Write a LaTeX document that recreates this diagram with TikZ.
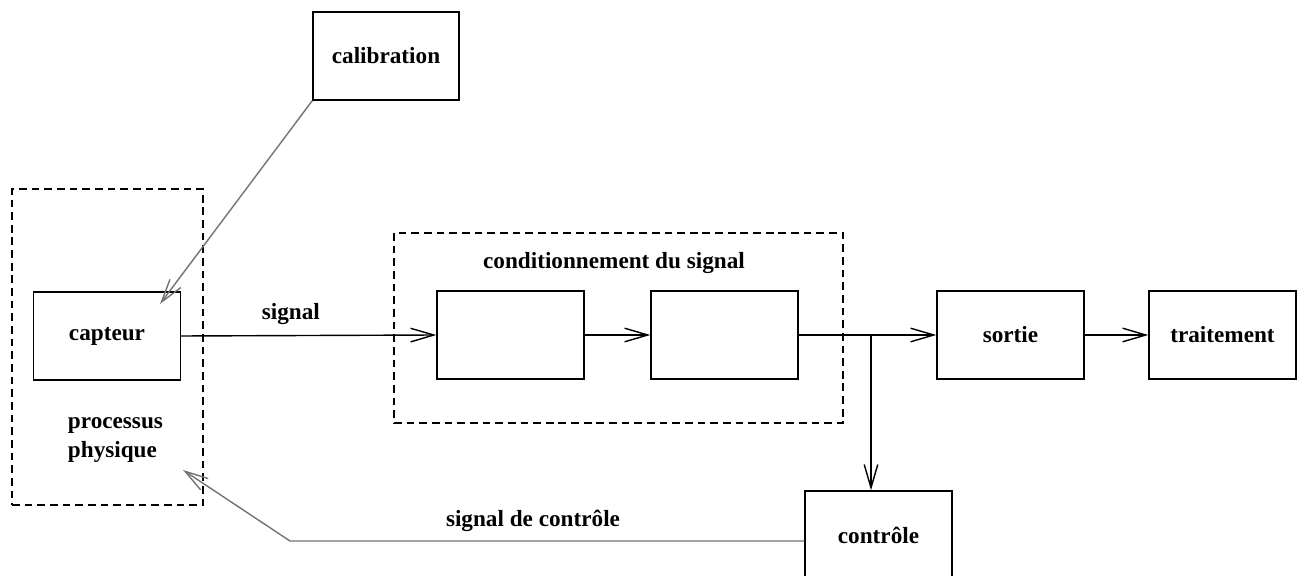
\documentclass[tikz,border=0pt]{standalone}
\usepackage{fontspec}
\setmainfont{Liberation Serif}
\usetikzlibrary{arrows.meta,positioning}
\definecolor{mygray}{RGB}{115,115,115}

\begin{document}
\begin{tikzpicture}[x=0.025cm,y=-0.025cm,
  every node/.style={font=\fontsize{16.5}{21}\selectfont\bfseries},
  bloc/.style={draw,line width=1.1pt,minimum width=3.67cm,minimum height=2.2cm,inner sep=0pt},
  cadre/.style={draw,dash pattern=on 5.5pt off 3.5pt,line width=0.9pt,inner sep=0pt},
  fleche/.style={-{Straight Barb[length=0.58cm,width=0.34cm]},line width=1pt}]
\useasboundingbox (0,0) rectangle (1305,576);
\clip (0,0) rectangle (1305,576);

% cadres en pointilles
\node[cadre,minimum width=4.775cm,minimum height=7.9cm] (phys) at (107.5,347) {};
\node[cadre,minimum width=11.225cm,minimum height=4.75cm] (cond) at (618.5,328) {};
\node (condlab) at (614,263) {conditionnement du signal};

% blocs
\node[bloc,minimum width=3.65cm] (calib) at (386,56) {calibration};
\node[bloc] (capteur) at (107,336) {capteur};
\node[align=left,anchor=west] (proc) at (63,440) {processus\\physique};
\node[bloc] (b1) at (510.5,335) {};
\node[bloc] (b2) at (724.5,335) {};
\node[bloc] (sortie) at (1010.5,335) {sortie};
\node[bloc] (trait) at (1222.5,335) {traitement};
\node[bloc] (ctrl) at (878.5,535) {contrôle};

\coordinate (br) at (871,336);
\coordinate (ct) at (160,304);
\coordinate (cl) at (290,541);
\coordinate (pp) at (183,470);

% liaisons
\draw[fleche] (capteur.east) -- node[pos=.43,above=4pt] (siglab) {signal} (b1.west);
\draw[fleche] (b1) -- (b2);
\draw[fleche] (b2.east) -- (sortie.west);
\draw[fleche] (sortie) -- (trait);
\draw[fleche] (br) -- (br |- ctrl.north);
\draw[fleche,mygray] (calib.south west) -- (ct);
\draw[fleche,mygray] (ctrl.west |- cl) -- (cl) -- (pp);
\node (ctrllab) at (533,521) {signal de contrôle};
\end{tikzpicture}
\end{document}
